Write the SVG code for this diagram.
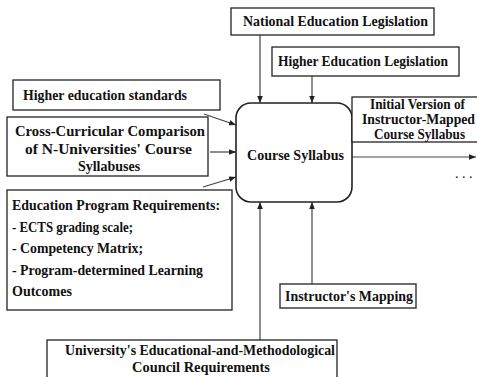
<svg xmlns="http://www.w3.org/2000/svg" width="477" height="377" viewBox="0 0 477 377">
<defs>
<marker id="ah" viewBox="0 0 10 10" refX="10" refY="5" markerWidth="7" markerHeight="7" orient="auto" markerUnits="userSpaceOnUse">
<path d="M0,1 L10,5 L0,9 z" fill="#222"/>
</marker>
<style>
.box{fill:#fff;stroke:#222;stroke-width:1.3}
.t{font-family:"Liberation Serif","Times New Roman",serif;font-weight:bold;font-size:14px;fill:#111}
.c{text-anchor:middle}
.ln{stroke:#444;stroke-width:1.2;fill:none;marker-end:url(#ah)}
</style>
</defs>
<rect width="477" height="377" fill="#fff"/>
<g id="connectors">
<line class="ln" x1="260" y1="35" x2="260" y2="103"/>
<line class="ln" x1="312" y1="76" x2="312" y2="103"/>
<line class="ln" x1="204" y1="114" x2="236" y2="125"/>
<line class="ln" x1="210" y1="152" x2="236" y2="152"/>
<line class="ln" x1="203" y1="187" x2="236" y2="177"/>
<line class="ln" x1="260" y1="340" x2="260" y2="202"/>
<line class="ln" x1="312" y1="285" x2="312" y2="202"/>
<line class="ln" x1="352" y1="157" x2="476" y2="157"/>
</g>
<g id="national">
<rect class="box" x="231" y="8" width="203" height="27"/>
<text class="t" x="243" y="26" textLength="185" lengthAdjust="spacingAndGlyphs">National Education Legislation</text>
</g>
<g id="higher-legislation">
<rect class="box" x="272" y="47" width="187" height="29"/>
<text class="t" x="278" y="66" textLength="170" lengthAdjust="spacingAndGlyphs">Higher Education Legislation</text>
</g>
<g id="course-syllabus">
<rect class="box" x="236" y="103" width="116" height="99" rx="15" ry="15" style="stroke-width:1.6"/>
<text class="t" x="247" y="160" textLength="97" lengthAdjust="spacingAndGlyphs">Course Syllabus</text>
</g>
<g id="output">
<rect class="box" x="352" y="97" width="140" height="45"/>
<text class="t" x="370" y="109" textLength="95" lengthAdjust="spacingAndGlyphs">Initial Version of</text>
<text class="t" x="362" y="124" textLength="113" lengthAdjust="spacingAndGlyphs">Instructor-Mapped</text>
<text class="t" x="374" y="139" textLength="91" lengthAdjust="spacingAndGlyphs">Course Syllabus</text>
<text class="t" x="455" y="178" style="font-weight:normal">. . .</text>
</g>
<g id="standards">
<rect class="box" x="13" y="80" width="207" height="30"/>
<text class="t" x="23" y="100" textLength="164" lengthAdjust="spacingAndGlyphs">Higher education standards</text>
</g>
<g id="cross-curricular">
<rect class="box" x="7" y="117" width="201" height="59"/>
<text class="t" x="15" y="136" textLength="190" lengthAdjust="spacingAndGlyphs">Cross-Curricular Comparison</text>
<text class="t" x="25" y="154" textLength="167" lengthAdjust="spacingAndGlyphs">of N-Universities' Course</text>
<text class="t c" x="109" y="171">Syllabuses</text>
</g>
<g id="program-requirements">
<rect class="box" x="7" y="190" width="225" height="120"/>
<text class="t" x="12" y="210" textLength="208" lengthAdjust="spacingAndGlyphs">Education Program Requirements:</text>
<text class="t" x="12" y="231.5" textLength="121" lengthAdjust="spacingAndGlyphs">- ECTS grading scale;</text>
<text class="t" x="12" y="253" textLength="131" lengthAdjust="spacingAndGlyphs">- Competency Matrix;</text>
<text class="t" x="12" y="274.5" textLength="191" lengthAdjust="spacingAndGlyphs">- Program-determined Learning</text>
<text class="t" x="12" y="296">Outcomes</text>
</g>
<g id="instructor-mapping">
<rect class="box" x="280" y="284" width="136" height="24"/>
<text class="t" x="285" y="301" textLength="128" lengthAdjust="spacingAndGlyphs">Instructor's Mapping</text>
</g>
<g id="council">
<rect class="box" x="47" y="340" width="290" height="50"/>
<text class="t" x="65" y="355" textLength="270" lengthAdjust="spacingAndGlyphs">University's Educational-and-Methodological</text>
<text class="t" x="132" y="372" textLength="138" lengthAdjust="spacingAndGlyphs">Council  Requirements</text>
</g>
</svg>
